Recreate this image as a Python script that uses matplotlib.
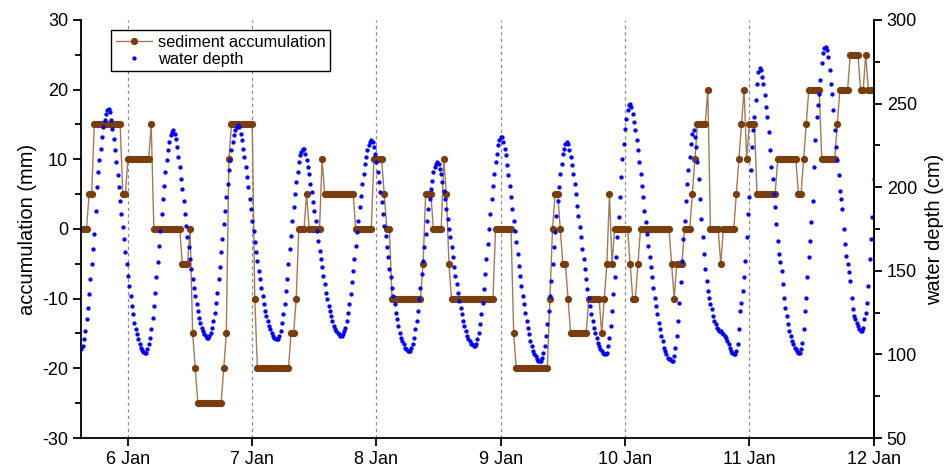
import matplotlib
matplotlib.use("Agg")
import matplotlib.pyplot as plt
import matplotlib.dates as mdates
from matplotlib.ticker import MultipleLocator
import numpy as np
import pandas as pd

plt.rcParams['font.family'] = ['Liberation Sans', 'DejaVu Sans']
plt.rcParams['axes.unicode_minus'] = False

# water depth (cm), one reading every 15 min starting 5 Jan 15:00
depth_start = "2021-01-05 15:00"
water_depth = [
    103, 105, 109, 114, 121, 128, 136, 145, 154, 163, 172, 186, 200, 209, 216, 223, 230, 236, 240, 244, 246, 247,
    245, 240, 235, 229, 222, 215, 207, 200, 192, 184, 176, 169, 161, 154, 147, 141, 135, 129, 124, 119,
    115, 112, 109, 106, 104, 102.5, 101.5, 101,
    101, 103, 106, 110, 115, 122, 129, 137, 146, 155, 165, 174, 184, 193, 201, 209, 216, 222, 227, 231, 233, 234,
    232, 229, 224, 218, 212, 205, 199, 192, 184, 177, 170, 164, 157, 151, 145, 140, 135, 130, 126, 122,
    119, 116, 114, 112, 111, 110,
    110, 111, 113, 116, 120, 125, 131, 137, 145, 152, 161, 169, 178, 186, 194, 202, 210, 216, 222, 227,
    231, 234, 236, 237,
    236, 232, 228, 223, 218, 212, 206, 200, 193, 187, 180, 174, 167, 161, 156, 150, 145, 140, 135, 130,
    126, 123, 120, 117, 115, 113, 111, 110, 109, 109,
    109, 111, 114, 119, 124, 130, 138, 145, 154, 163, 171, 180, 188, 196, 203, 209, 215, 219, 221, 223,
    223, 220, 216, 212, 208, 202, 197, 191, 186, 180, 174, 168, 162, 157, 152, 147, 142, 137, 133, 129,
    126, 123, 120, 117, 115, 114, 113, 112, 111,
    111, 112, 114, 116, 120, 125, 130, 136, 143, 150, 157, 165, 173, 180, 188, 195, 202, 208, 214, 218,
    222, 225, 227, 228,
    227, 224, 220, 215, 209, 203, 197, 191, 184, 177, 171, 164, 158, 151, 146, 140, 135, 130, 125, 121,
    117, 113, 110, 108, 106, 104, 103, 102, 102,
    102, 104, 106, 110, 115, 120, 126, 133, 140, 148, 156, 164, 172, 180, 187, 193, 199, 204, 209, 212,
    214, 215,
    214, 211, 208, 203, 198, 193, 187, 181, 175, 170, 164, 158, 152, 147, 142, 137, 132, 128, 124, 120,
    117, 114, 111, 109, 108, 106, 106, 105,
    105, 106, 109, 113, 118, 124, 131, 139, 148, 157, 166, 175, 184, 193, 201, 208, 215, 220, 225, 228, 230,
    230, 227, 223, 219, 213, 207, 201, 194, 187, 180, 174, 167, 160, 153, 147, 141, 135, 130, 125, 120,
    116, 112, 108, 105, 102, 100, 99, 97, 96, 96,
    96, 98, 101, 105, 111, 118, 126, 135, 144, 154, 164, 173, 183, 192, 200, 208, 214, 220, 223, 226, 227,
    226, 222, 218, 213, 208, 202, 196, 189, 183, 176, 170, 163, 157, 151, 145, 139, 134, 129, 124, 120,
    116, 113, 110, 107, 105, 103, 102, 101, 100,
    100, 101, 105, 110, 117, 126, 136, 146, 158, 170, 182, 194, 206, 217, 226, 235, 241, 246, 249,
    250, 248, 244, 239, 234, 228, 222, 215, 208, 201, 194, 186, 179, 172, 165, 158, 152, 146, 140, 134,
    129, 124, 119, 115, 111, 108, 104, 102, 100, 98, 97, 97, 96,
    96, 99, 104, 111, 120, 131, 143, 156, 169, 180, 192, 202, 210, 218, 226, 232, 234,
    230, 224, 215, 205, 193, 181, 170, 160, 151, 144, 138, 134, 130, 127, 123, 120, 118, 116, 115, 114,
    114, 113, 112, 111, 110, 108, 106, 104, 102, 101, 100, 100,
    102, 106, 115, 126, 131, 138, 146, 156, 170, 184, 194, 210, 224, 234, 242, 252, 262, 269, 271,
    270, 266, 262, 255, 248, 242, 233, 222, 212, 205, 196, 188, 178, 168, 160, 155, 150, 142, 134, 128,
    123, 118, 114, 111, 108, 106, 104, 103, 102, 101,
    101, 103, 107, 115, 126, 134, 146, 158, 168, 179, 192, 212, 228, 242, 249, 256, 264, 274, 280, 283, 284,
    282, 278, 270, 262, 256, 246, 234, 224, 216, 207, 198, 193, 187, 175, 166, 159, 154, 149, 144, 134,
    127, 123, 121, 119, 117, 115, 114, 114,
    116, 121, 125, 131, 141, 157, 169, 182, 205,
]

# sediment accumulation (mm), one reading every 30 min, stored as runs of equal readings
sed_levels = [0, 5, 15, 5, 10, 15, 0, -5, 0, -15, -20, -25, -20, -15, 10, 15, -10, -20, -15, -10,
              0, 5, 0, 10, 5, 0, 10, 5, 0, -10, -5, 5, 0, 10, 5, -5, -10, 0, -15, -20,
              -10, 0, 5, 0, -5, -10, -15, -10, -15, -10, -5, 5, -5, 0, -5, -10, -5, 0, -5, -10,
              -5, 0, 5, 10, 15, 20, 0, -5, 0, 5, 10, 15, 20, 10, 15, 5, 10, 5, 10, 15,
              20, 10, 15, 20, 25, 20, 25, 20]
sed_runs = [3, 2, 11, 2, 9, 1, 11, 3, 1, 1, 1, 10, 1, 1, 1, 9, 1, 13, 2, 1,
            3, 1, 5, 1, 12, 7, 4, 1, 2, 12, 1, 3, 4, 1, 1, 1, 17, 7, 1, 13,
            1, 1, 2, 1, 2, 1, 7, 5, 1, 1, 1, 1, 1, 6, 1, 2, 1, 12, 1, 1,
            3, 3, 1, 1, 4, 1, 4, 1, 5, 1, 1, 1, 1, 1, 3, 8, 8, 2, 1, 1,
            5, 6, 1, 4, 4, 2, 1, 3]

day_ticks = pd.date_range("2021-01-06", "2021-01-12", freq="D")
day_labels = [f"{d.day} Jan" for d in day_ticks]

depth_t = pd.date_range(depth_start, periods=len(water_depth), freq="15min")
sediment = np.repeat(sed_levels, sed_runs)
sed_t = pd.date_range(depth_start, periods=len(sediment), freq="30min")

fig = plt.figure(figsize=(9.47, 4.68), dpi=100)
ax = fig.add_axes([0.0859, 0.0641, 0.8365, 0.8932])
ax2 = ax.twinx()

for d in day_ticks[:-1]:
    ax.axvline(d, color="#8c8c8c", lw=0.9, ls=(0, (2.6, 2.6)), zorder=0)

l1, = ax.plot(sed_t, sediment, "-o", color="#a47a55", lw=1.0, ms=4.2,
              mfc="#7a3d0c", mec="#7a3d0c", label="sediment accumulation")
l2, = ax2.plot(depth_t, water_depth, "o", ls="none", ms=3.1, color="#0000ff",
               mec="none", label="water depth")

ax.set_xlim(pd.Timestamp("2021-01-05 15:00"), pd.Timestamp("2021-01-12 00:00"))
ax.set_ylim(-30, 30)
ax2.set_ylim(50, 300)

ax.set_xticks(day_ticks)
ax.set_xticklabels(day_labels)
ax.yaxis.set_major_locator(MultipleLocator(10))
ax.yaxis.set_minor_locator(MultipleLocator(5))
ax2.yaxis.set_major_locator(MultipleLocator(50))
ax2.yaxis.set_minor_locator(MultipleLocator(25))

for a in (ax, ax2):
    a.spines["top"].set_visible(False)
    for s in a.spines.values():
        s.set_linewidth(1.3)
    a.tick_params(which="major", direction="out", length=6, width=1.3, labelsize=13)
    a.tick_params(which="minor", direction="out", length=4, width=1.3)
ax2.spines["left"].set_visible(False)
ax2.spines["bottom"].set_visible(False)
ax.tick_params(axis="x", which="minor", length=0)

ax.set_ylabel("accumulation (mm)", fontsize=14.5, labelpad=4)
ax2.set_ylabel("water depth (cm)", fontsize=14.5, labelpad=6)

leg = ax2.legend([l1, l2], ["sediment accumulation", "water depth"], loc="upper left",
                 bbox_to_anchor=(0.038, 0.975), borderaxespad=0, fontsize=11.8,
                 frameon=True, fancybox=False, edgecolor="black", framealpha=1,
                 borderpad=0.25, labelspacing=0.15, handlelength=2.25, handletextpad=0.35)
leg.get_frame().set_linewidth(1.0)

fig.savefig("out.png", dpi=100)
